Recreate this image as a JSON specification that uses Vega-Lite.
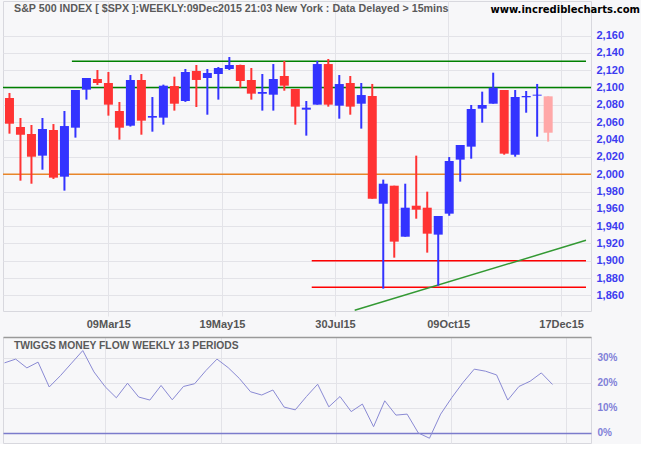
{
  "$schema": "https://vega.github.io/schema/vega-lite/v6.json",
  "background": "#f7f7f9",
  "padding": {"left": 1, "top": 0, "right": 0, "bottom": 0},
  "title": {"text": "www.incrediblecharts.com", "anchor": "end", "offset": -14, "dx": 16, "font": "DejaVu Sans", "fontSize": 10, "fontWeight": "bold", "color": "#000000"},
  "config": {
    "view": {"stroke": "#d8d8de", "strokeWidth": 1},
    "axis": {"gridColor": "#e3e3e8", "gridWidth": 1, "domain": false, "ticks": false, "labelFont": "Liberation Sans", "labelFontWeight": "bold"}
  },
  "bounds": "flush",
  "spacing": 26,
  "datasets": {
    "candles": [
      {"date": "2014-12-29", "open": 2088.0, "high": 2093.8, "low": 2046.8, "close": 2058.3, "dir": "down"},
      {"date": "2015-01-05", "open": 2054.5, "high": 2064.9, "low": 1992.5, "close": 2045.6, "dir": "down"},
      {"date": "2015-01-12", "open": 2046.4, "high": 2056.8, "low": 1989.0, "close": 2020.2, "dir": "down"},
      {"date": "2015-01-19", "open": 2021.4, "high": 2064.9, "low": 2005.2, "close": 2052.2, "dir": "up"},
      {"date": "2015-01-26", "open": 2051.0, "high": 2057.9, "low": 1994.5, "close": 1996.0, "dir": "down"},
      {"date": "2015-02-02", "open": 1997.1, "high": 2073.0, "low": 1981.0, "close": 2055.6, "dir": "up"},
      {"date": "2015-02-09", "open": 2053.7, "high": 2097.2, "low": 2042.2, "close": 2097.2, "dir": "up"},
      {"date": "2015-02-16", "open": 2097.6, "high": 2111.1, "low": 2086.1, "close": 2111.1, "dir": "up"},
      {"date": "2015-02-23", "open": 2109.9, "high": 2120.3, "low": 2103.0, "close": 2105.3, "dir": "down"},
      {"date": "2015-03-02", "open": 2105.3, "high": 2118.0, "low": 2067.6, "close": 2080.3, "dir": "down"},
      {"date": "2015-03-09", "open": 2073.0, "high": 2083.4, "low": 2039.9, "close": 2053.7, "dir": "down"},
      {"date": "2015-03-16", "open": 2056.0, "high": 2114.5, "low": 2055.0, "close": 2108.8, "dir": "up"},
      {"date": "2015-03-23", "open": 2108.8, "high": 2115.7, "low": 2045.6, "close": 2061.8, "dir": "down"},
      {"date": "2015-03-30", "open": 2065.3, "high": 2089.1, "low": 2049.1, "close": 2067.2, "dir": "up"},
      {"date": "2015-04-06", "open": 2065.3, "high": 2103.4, "low": 2057.2, "close": 2102.2, "dir": "up"},
      {"date": "2015-04-13", "open": 2101.8, "high": 2112.6, "low": 2073.4, "close": 2081.4, "dir": "down"},
      {"date": "2015-04-20", "open": 2084.5, "high": 2121.5, "low": 2083.5, "close": 2118.0, "dir": "up"},
      {"date": "2015-04-27", "open": 2119.2, "high": 2126.1, "low": 2077.6, "close": 2108.8, "dir": "down"},
      {"date": "2015-05-04", "open": 2111.1, "high": 2121.5, "low": 2068.7, "close": 2116.9, "dir": "up"},
      {"date": "2015-05-11", "open": 2115.7, "high": 2123.8, "low": 2086.1, "close": 2122.6, "dir": "up"},
      {"date": "2015-05-18", "open": 2121.5, "high": 2135.3, "low": 2120.3, "close": 2126.1, "dir": "up"},
      {"date": "2015-05-25", "open": 2126.1, "high": 2126.5, "low": 2099.9, "close": 2107.6, "dir": "down"},
      {"date": "2015-06-01", "open": 2108.8, "high": 2122.6, "low": 2086.1, "close": 2093.0, "dir": "down"},
      {"date": "2015-06-08", "open": 2093.0, "high": 2115.7, "low": 2073.4, "close": 2094.9, "dir": "up"},
      {"date": "2015-06-15", "open": 2091.8, "high": 2127.2, "low": 2073.4, "close": 2109.9, "dir": "up"},
      {"date": "2015-06-22", "open": 2113.4, "high": 2130.7, "low": 2096.4, "close": 2102.2, "dir": "down"},
      {"date": "2015-06-29", "open": 2098.4, "high": 2098.4, "low": 2057.2, "close": 2078.0, "dir": "down"},
      {"date": "2015-07-06", "open": 2074.5, "high": 2084.5, "low": 2044.5, "close": 2076.8, "dir": "up"},
      {"date": "2015-07-13", "open": 2080.3, "high": 2130.7, "low": 2080.3, "close": 2127.2, "dir": "up"},
      {"date": "2015-07-20", "open": 2127.2, "high": 2133.0, "low": 2078.0, "close": 2080.3, "dir": "down"},
      {"date": "2015-07-27", "open": 2079.1, "high": 2114.5, "low": 2064.1, "close": 2104.1, "dir": "up"},
      {"date": "2015-08-03", "open": 2105.3, "high": 2113.4, "low": 2068.7, "close": 2078.0, "dir": "down"},
      {"date": "2015-08-10", "open": 2081.4, "high": 2105.3, "low": 2052.6, "close": 2091.4, "dir": "up"},
      {"date": "2015-08-17", "open": 2090.3, "high": 2104.2, "low": 1971.7, "close": 1971.7, "dir": "down"},
      {"date": "2015-08-24", "open": 1965.9, "high": 1993.7, "low": 1867.8, "close": 1989.0, "dir": "up"},
      {"date": "2015-08-31", "open": 1986.7, "high": 1986.7, "low": 1903.6, "close": 1922.1, "dir": "down"},
      {"date": "2015-09-07", "open": 1927.8, "high": 1989.0, "low": 1927.8, "close": 1961.3, "dir": "up"},
      {"date": "2015-09-14", "open": 1963.6, "high": 2021.4, "low": 1948.6, "close": 1959.0, "dir": "down"},
      {"date": "2015-09-21", "open": 1961.3, "high": 1979.8, "low": 1909.4, "close": 1931.3, "dir": "down"},
      {"date": "2015-09-28", "open": 1930.2, "high": 1951.7, "low": 1871.3, "close": 1951.7, "dir": "up"},
      {"date": "2015-10-05", "open": 1954.4, "high": 2019.8, "low": 1952.0, "close": 2015.2, "dir": "up"},
      {"date": "2015-10-12", "open": 2016.8, "high": 2033.7, "low": 1991.4, "close": 2033.7, "dir": "up"},
      {"date": "2015-10-19", "open": 2031.8, "high": 2079.9, "low": 2017.9, "close": 2075.3, "dir": "up"},
      {"date": "2015-10-26", "open": 2075.7, "high": 2095.3, "low": 2059.5, "close": 2079.9, "dir": "up"},
      {"date": "2015-11-02", "open": 2081.4, "high": 2117.2, "low": 2081.4, "close": 2099.9, "dir": "up"},
      {"date": "2015-11-09", "open": 2097.2, "high": 2097.2, "low": 2022.5, "close": 2023.7, "dir": "down"},
      {"date": "2015-11-16", "open": 2022.5, "high": 2097.2, "low": 2020.2, "close": 2089.1, "dir": "up"},
      {"date": "2015-11-23", "open": 2088.8, "high": 2096.1, "low": 2071.0, "close": 2090.3, "dir": "up"},
      {"date": "2015-11-30", "open": 2090.7, "high": 2104.2, "low": 2043.3, "close": 2091.8, "dir": "up"},
      {"date": "2015-12-07", "open": 2089.9, "high": 2089.9, "low": 2037.6, "close": 2047.9, "dir": "current"}
    ],
    "flow": [
      {"date": "2014-12-29", "mf": 27.9}, {"date": "2015-01-05", "mf": 29.4}, {"date": "2015-01-12", "mf": 25.9},
      {"date": "2015-01-19", "mf": 28.2}, {"date": "2015-01-26", "mf": 18.3}, {"date": "2015-02-02", "mf": 22.8},
      {"date": "2015-02-09", "mf": 27.8}, {"date": "2015-02-16", "mf": 32.8}, {"date": "2015-02-23", "mf": 24.3},
      {"date": "2015-03-02", "mf": 18.4}, {"date": "2015-03-09", "mf": 14.0}, {"date": "2015-03-16", "mf": 19.8},
      {"date": "2015-03-23", "mf": 14.3}, {"date": "2015-03-30", "mf": 13.1}, {"date": "2015-04-06", "mf": 18.9},
      {"date": "2015-04-13", "mf": 13.2}, {"date": "2015-04-20", "mf": 18.5}, {"date": "2015-04-27", "mf": 19.6},
      {"date": "2015-05-04", "mf": 24.8}, {"date": "2015-05-11", "mf": 29.4}, {"date": "2015-05-18", "mf": 26.0},
      {"date": "2015-05-25", "mf": 21.7}, {"date": "2015-06-01", "mf": 16.4}, {"date": "2015-06-08", "mf": 15.1},
      {"date": "2015-06-15", "mf": 17.1}, {"date": "2015-06-22", "mf": 10.3}, {"date": "2015-06-29", "mf": 9.2},
      {"date": "2015-07-06", "mf": 14.5}, {"date": "2015-07-13", "mf": 19.4}, {"date": "2015-07-20", "mf": 10.4},
      {"date": "2015-07-27", "mf": 14.5}, {"date": "2015-08-03", "mf": 8.5}, {"date": "2015-08-10", "mf": 11.5},
      {"date": "2015-08-17", "mf": 2.5}, {"date": "2015-08-24", "mf": 12.8}, {"date": "2015-08-31", "mf": 7.1},
      {"date": "2015-09-07", "mf": 7.5}, {"date": "2015-09-14", "mf": 0.0}, {"date": "2015-09-21", "mf": -2.1},
      {"date": "2015-09-28", "mf": 7.5}, {"date": "2015-10-05", "mf": 14.1}, {"date": "2015-10-12", "mf": 20.1},
      {"date": "2015-10-19", "mf": 25.4}, {"date": "2015-10-26", "mf": 24.6}, {"date": "2015-11-02", "mf": 23.1},
      {"date": "2015-11-09", "mf": 13.1}, {"date": "2015-11-16", "mf": 18.5}, {"date": "2015-11-23", "mf": 20.6},
      {"date": "2015-11-30", "mf": 23.9}, {"date": "2015-12-07", "mf": 19.3}
    ],
    "levels": [
      {"level": 2100, "kind": "resistance"},
      {"level": 2000, "kind": "pivot"}
    ],
    "lines": [
      {"start": "2015-02-06T18:00:00Z", "end": "2015-12-31T02:15:00Z", "from": 2130.3, "to": 2130.3, "kind": "resistance"},
      {"start": "2015-07-09T11:00:00Z", "end": "2015-12-31T02:15:00Z", "from": 1900.0, "to": 1900.0, "kind": "support"},
      {"start": "2015-07-09T11:00:00Z", "end": "2015-12-31T02:15:00Z", "from": 1869.5, "to": 1869.5, "kind": "support"},
      {"start": "2015-08-05T19:30:00Z", "end": "2015-12-31T02:15:00Z", "from": 1842.8, "to": 1923.6, "kind": "trend"}
    ]
  },
  "vconcat": [
    {
      "width": 588,
      "height": 310,
      "title": {"text": "S&P 500 INDEX [ $SPX ]:WEEKLY:09Dec2015 21:03 New York : Data Delayed > 15mins", "anchor": "start", "frame": "group", "offset": -14, "dx": 11, "font": "Liberation Sans", "fontSize": 10.7, "fontWeight": "bold", "color": "#5a5a5a"},
      "layer": [
        {
          "data": {"name": "levels"},
          "mark": {"type": "rule", "strokeWidth": 1.5},
          "encoding": {
            "y": {"field": "level", "type": "quantitative", "scale": {"domain": [1842, 2200], "nice": false, "zero": false},
              "axis": {"title": null, "orient": "right", "values": [1860, 1880, 1900, 1920, 1940, 1960, 1980, 2000, 2020, 2040, 2060, 2080, 2100, 2120, 2140, 2160], "format": ",d", "labelColor": "#3c3cf0", "labelFontSize": 11, "labelPadding": 5}},
            "stroke": {"field": "kind", "type": "nominal", "scale": {"domain": ["resistance", "pivot", "support", "trend"], "range": ["#008000", "#e8862a", "#ff0000", "#339933"]}, "legend": null}
          }
        },
        {
          "data": {"name": "lines"},
          "mark": {"type": "rule", "strokeWidth": 1.5},
          "encoding": {
            "x": {"field": "start", "type": "temporal", "scale": {"type": "utc", "domain": [{"year": 2014, "month": 12, "date": 28, "hours": 1, "minutes": 30, "utc": true}, {"year": 2015, "month": 12, "date": 31, "hours": 2, "minutes": 15, "utc": true}], "nice": false},
              "axis": {"title": null, "orient": "bottom", "grid": true, "ticks": true, "tickColor": "#e3e3e8", "tickSize": 5, "labelPadding": 2, "labelFontSize": 11, "labelColor": "#555555", "labelFlush": false, "labelOverlap": false,
                "values": [
                  {"year": 2015, "month": 3, "date": 1, "hours": 21, "minutes": 40, "utc": true},
                  {"year": 2015, "month": 5, "date": 13, "hours": 7, "minutes": 45, "utc": true},
                  {"year": 2015, "month": 7, "date": 24, "hours": 7, "minutes": 15, "utc": true},
                  {"year": 2015, "month": 10, "date": 4, "hours": 6, "minutes": 50, "utc": true},
                  {"year": 2015, "month": 12, "date": 15, "hours": 6, "minutes": 0, "utc": true}
                ],
                "labelExpr": "datum.value < utc(2015,3,1) ? '09Mar15' : datum.value < utc(2015,5,1) ? '19May15' : datum.value < utc(2015,8,1) ? '30Jul15' : datum.value < utc(2015,10,1) ? '09Oct15' : '17Dec15'"}},
            "x2": {"field": "end"},
            "y": {"field": "from", "type": "quantitative", "scale": {"domain": [1842, 2200], "nice": false, "zero": false},
              "axis": {"title": null, "orient": "right", "values": [1860, 1880, 1900, 1920, 1940, 1960, 1980, 2000, 2020, 2040, 2060, 2080, 2100, 2120, 2140, 2160], "format": ",d", "labelColor": "#3c3cf0", "labelFontSize": 11, "labelPadding": 5}},
            "y2": {"field": "to"},
            "stroke": {"field": "kind", "type": "nominal", "scale": {"domain": ["resistance", "pivot", "support", "trend"], "range": ["#008000", "#e8862a", "#ff0000", "#339933"]}, "legend": null}
          }
        },
        {
          "data": {"name": "candles"},
          "mark": {"type": "rule", "strokeWidth": 2},
          "encoding": {
            "x": {"field": "date", "type": "temporal", "scale": {"type": "utc", "domain": [{"year": 2014, "month": 12, "date": 28, "hours": 1, "minutes": 30, "utc": true}, {"year": 2015, "month": 12, "date": 31, "hours": 2, "minutes": 15, "utc": true}], "nice": false},
              "axis": {"title": null, "orient": "bottom", "grid": true, "ticks": true, "tickColor": "#e3e3e8", "tickSize": 5, "labelPadding": 2, "labelFontSize": 11, "labelColor": "#555555", "labelFlush": false, "labelOverlap": false,
                "values": [
                  {"year": 2015, "month": 3, "date": 1, "hours": 21, "minutes": 40, "utc": true},
                  {"year": 2015, "month": 5, "date": 13, "hours": 7, "minutes": 45, "utc": true},
                  {"year": 2015, "month": 7, "date": 24, "hours": 7, "minutes": 15, "utc": true},
                  {"year": 2015, "month": 10, "date": 4, "hours": 6, "minutes": 50, "utc": true},
                  {"year": 2015, "month": 12, "date": 15, "hours": 6, "minutes": 0, "utc": true}
                ],
                "labelExpr": "datum.value < utc(2015,3,1) ? '09Mar15' : datum.value < utc(2015,5,1) ? '19May15' : datum.value < utc(2015,8,1) ? '30Jul15' : datum.value < utc(2015,10,1) ? '09Oct15' : '17Dec15'"}},
            "y": {"field": "low", "type": "quantitative", "scale": {"domain": [1842, 2200], "nice": false, "zero": false},
              "axis": {"title": null, "orient": "right", "values": [1860, 1880, 1900, 1920, 1940, 1960, 1980, 2000, 2020, 2040, 2060, 2080, 2100, 2120, 2140, 2160], "format": ",d", "labelColor": "#3c3cf0", "labelFontSize": 11, "labelPadding": 5}},
            "y2": {"field": "high"},
            "color": {"field": "dir", "type": "nominal", "scale": {"domain": ["up", "down", "current"], "range": ["#3333ff", "#ff3333", "#ffa8a8"]}, "legend": null}
          }
        },
        {
          "data": {"name": "candles"},
          "mark": {"type": "bar", "size": 9},
          "encoding": {
            "x": {"field": "date", "type": "temporal", "scale": {"type": "utc", "domain": [{"year": 2014, "month": 12, "date": 28, "hours": 1, "minutes": 30, "utc": true}, {"year": 2015, "month": 12, "date": 31, "hours": 2, "minutes": 15, "utc": true}], "nice": false},
              "axis": {"title": null, "orient": "bottom", "grid": true, "ticks": true, "tickColor": "#e3e3e8", "tickSize": 5, "labelPadding": 2, "labelFontSize": 11, "labelColor": "#555555", "labelFlush": false, "labelOverlap": false,
                "values": [
                  {"year": 2015, "month": 3, "date": 1, "hours": 21, "minutes": 40, "utc": true},
                  {"year": 2015, "month": 5, "date": 13, "hours": 7, "minutes": 45, "utc": true},
                  {"year": 2015, "month": 7, "date": 24, "hours": 7, "minutes": 15, "utc": true},
                  {"year": 2015, "month": 10, "date": 4, "hours": 6, "minutes": 50, "utc": true},
                  {"year": 2015, "month": 12, "date": 15, "hours": 6, "minutes": 0, "utc": true}
                ],
                "labelExpr": "datum.value < utc(2015,3,1) ? '09Mar15' : datum.value < utc(2015,5,1) ? '19May15' : datum.value < utc(2015,8,1) ? '30Jul15' : datum.value < utc(2015,10,1) ? '09Oct15' : '17Dec15'"}},
            "y": {"field": "open", "type": "quantitative", "scale": {"domain": [1842, 2200], "nice": false, "zero": false},
              "axis": {"title": null, "orient": "right", "values": [1860, 1880, 1900, 1920, 1940, 1960, 1980, 2000, 2020, 2040, 2060, 2080, 2100, 2120, 2140, 2160], "format": ",d", "labelColor": "#3c3cf0", "labelFontSize": 11, "labelPadding": 5}},
            "y2": {"field": "close"},
            "color": {"field": "dir", "type": "nominal", "scale": {"domain": ["up", "down", "current"], "range": ["#3333ff", "#ff3333", "#ffa8a8"]}, "legend": null}
          }
        }
      ]
    },
    {
      "width": 588,
      "height": 106,
      "title": {"text": "TWIGGS MONEY FLOW WEEKLY 13 PERIODS", "anchor": "start", "frame": "group", "offset": -14, "dx": 11, "font": "Liberation Sans", "fontSize": 10.3, "fontWeight": "bold", "color": "#5a5a5a"},
      "data": {"name": "flow"},
      "mark": {"type": "line", "strokeWidth": 1, "color": "#8a8ad4"},
      "encoding": {
        "x": {"field": "date", "type": "temporal", "scale": {"type": "utc", "domain": [{"year": 2014, "month": 12, "date": 28, "hours": 1, "minutes": 30, "utc": true}, {"year": 2015, "month": 12, "date": 31, "hours": 2, "minutes": 15, "utc": true}], "nice": false},
          "axis": {"title": null, "orient": "top", "labels": false, "ticks": false, "domain": true, "domainColor": "#9a9a9a", "domainWidth": 1.5, "grid": true,
            "values": [
              {"year": 2015, "month": 3, "date": 1, "hours": 21, "minutes": 40, "utc": true},
              {"year": 2015, "month": 5, "date": 13, "hours": 7, "minutes": 45, "utc": true},
              {"year": 2015, "month": 7, "date": 24, "hours": 7, "minutes": 15, "utc": true},
              {"year": 2015, "month": 10, "date": 4, "hours": 6, "minutes": 50, "utc": true},
              {"year": 2015, "month": 12, "date": 15, "hours": 6, "minutes": 0, "utc": true}
            ]}},
        "y": {"field": "mf", "type": "quantitative", "scale": {"domain": [-4, 38.2], "nice": false, "zero": false},
          "axis": {"title": null, "orient": "right", "values": [0, 10, 20, 30], "labelExpr": "datum.value + '%'", "labelColor": "#8080d8", "labelFontSize": 10, "labelPadding": 6,
            "gridColor": {"condition": {"test": "datum.value === 0", "value": "#7b7bcc"}, "value": "#e3e3e8"},
            "gridWidth": {"condition": {"test": "datum.value === 0", "value": 1.5}, "value": 1}}}
      }
    }
  ]
}
